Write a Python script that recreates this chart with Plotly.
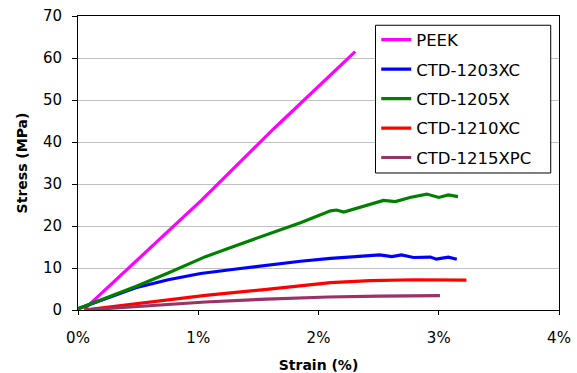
import plotly.graph_objects as go

# ---- data (strain in %, stress in MPa) ----
series_names = ["PEEK", "CTD-1203XC", "CTD-1205X", "CTD-1210XC", "CTD-1215XPC"]
series_colors = ["#FF00FF", "#0000FF", "#008000", "#FF0000", "#993366"]

peek_strain = [0.06, 0.50, 1.03, 1.626, 2.305]
peek_stress = [0.4, 12.2, 26.2, 43.1, 61.5]

c1203_strain = [0.0, 0.25, 0.48, 0.75, 1.02, 1.30, 1.57, 1.85, 2.10, 2.21, 2.36, 2.51, 2.61, 2.69, 2.79, 2.93, 2.98, 3.08, 3.15]
c1203_stress = [0.3, 2.9, 5.3, 7.2, 8.7, 9.7, 10.7, 11.6, 12.3, 12.5, 12.9, 13.1, 12.7, 13.1, 12.5, 12.6, 12.1, 12.6, 12.1]

c1205_strain = [0.0, 0.25, 0.48, 0.75, 1.06, 1.30, 1.57, 1.85, 2.10, 2.15, 2.21, 2.35, 2.54, 2.64, 2.76, 2.90, 3.00, 3.08, 3.16]
c1205_stress = [0.3, 3.0, 5.6, 8.8, 12.7, 15.2, 17.9, 20.8, 23.6, 23.8, 23.3, 24.5, 26.1, 25.8, 26.8, 27.6, 26.8, 27.4, 27.0]

c1210_strain = [0.05, 0.53, 1.06, 1.57, 2.10, 2.43, 2.80, 3.23]
c1210_stress = [0.0, 1.7, 3.5, 4.9, 6.5, 7.0, 7.2, 7.1]

c1215_strain = [0.05, 0.53, 1.06, 1.57, 2.08, 2.50, 3.01]
c1215_stress = [0.0, 0.9, 1.9, 2.6, 3.1, 3.3, 3.4]

x_ticks = [0, 1, 2, 3, 4]
x_tick_labels = ["0%", "1%", "2%", "3%", "4%"]
y_ticks = [0, 10, 20, 30, 40, 50, 60, 70]

all_x = [peek_strain, c1203_strain, c1205_strain, c1210_strain, c1215_strain]
all_y = [peek_stress, c1203_stress, c1205_stress, c1210_stress, c1215_stress]

FONT = "DejaVu Sans"

fig = go.Figure()
for name, color, xs, ys in zip(series_names, series_colors, all_x, all_y):
    fig.add_trace(go.Scatter(
        x=xs, y=ys, mode="lines", name=name, legendgroup=name,
        line=dict(color=color, width=3.2),
    ))

# legend frame (white box with black border)
fig.add_shape(
    type="rect", xref="paper", yref="paper",
    x0=0.6185, x1=0.9828, y0=0.466, y1=0.9685,
    line=dict(color="black", width=1), fillcolor="white", layer="above",
)

fig.update_layout(
    width=577, height=373,
    margin=dict(l=77.5, r=18, t=15.7, b=62.7, autoexpand=False),
    paper_bgcolor="white", plot_bgcolor="white",
    font=dict(family=FONT, size=15, color="black"),
    showlegend=True,
    legend=dict(
        x=0.62, y=0.978, xanchor="left", yanchor="top",
        borderwidth=0, bgcolor="rgba(0,0,0,0)",
        font=dict(family=FONT, size=16.5, color="black"),
        tracegroupgap=5,
    ),
    xaxis=dict(
        range=[0, 4], tickvals=x_ticks, ticktext=x_tick_labels,
        showgrid=False, zeroline=False,
        showline=True, linecolor="black", linewidth=1, mirror=True,
        ticks="outside", ticklen=4, tickcolor="black",
        ticklabelstandoff=10,
        title=dict(text="<b>Strain (%)</b>", font=dict(family=FONT, size=14), standoff=14),
    ),
    yaxis=dict(
        range=[0, 70], tickvals=y_ticks,
        showgrid=True, gridcolor="#c0c0c0", gridwidth=1, zeroline=False,
        showline=True, linecolor="black", linewidth=1, mirror=True,
        ticks="outside", ticklen=5, tickcolor="black",
        ticklabelstandoff=7,
        title=dict(text="<b>Stress (MPa)</b>", font=dict(family=FONT, size=14), standoff=12),
    ),
)

fig.write_html("out.html", post_script="document.body.style.margin='0';",
               config={"displayModeBar": False})
